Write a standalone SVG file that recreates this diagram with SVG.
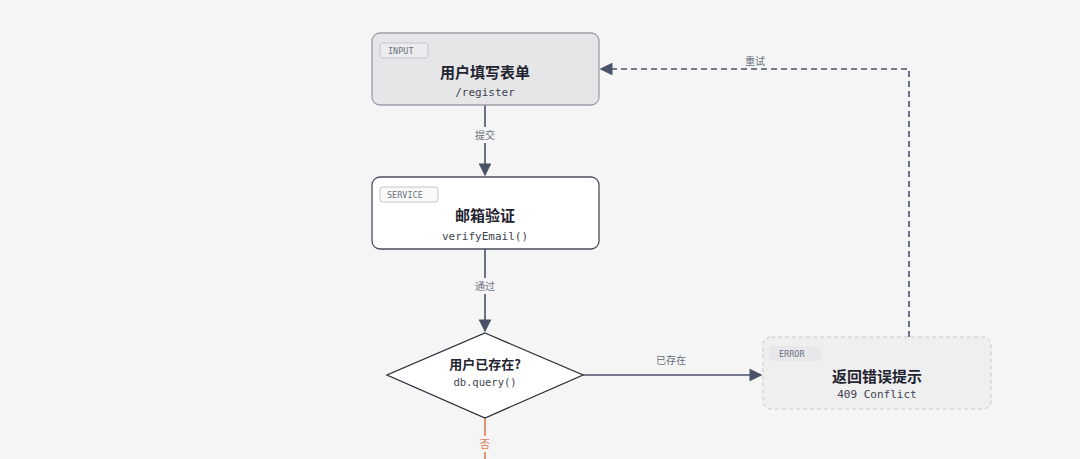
<svg xmlns="http://www.w3.org/2000/svg" width="1080" height="459" viewBox="0 0 1080 459">
<style>
.t{font-family:"Noto Sans CJK SC","Liberation Sans",sans-serif;font-weight:700;font-size:15px;fill:#1f2430;text-anchor:middle}
.m{font-family:"DejaVu Sans Mono","Liberation Mono",monospace;font-size:11px;fill:#3d4350;text-anchor:middle}
.tag{font-family:"DejaVu Sans Mono","Liberation Mono",monospace;font-size:8.5px;fill:#6b7280}
.lb{font-family:"Noto Sans CJK SC",sans-serif;font-size:10px;fill:#6b7280;text-anchor:middle}
.c{stroke:#4a5268;stroke-width:1.6;fill:none}
</style>
<defs>
<marker id="a" viewBox="0 0 10 10" refX="9" refY="5" markerWidth="8" markerHeight="8" orient="auto"><path d="M0,0L10,5L0,10z" fill="#4a5268"/></marker>
</defs>
<rect width="1080" height="459" fill="#f5f5f5"/>
<g id="connectors">
<path class="c" d="M485,105V175" marker-end="url(#a)"/>
<rect x="470" y="127" width="30" height="16" fill="#f5f5f5"/>
<text class="lb" x="485" y="139">提交</text>
<path class="c" d="M485,249V331" marker-end="url(#a)"/>
<rect x="470" y="278" width="30" height="16" fill="#f5f5f5"/>
<text class="lb" x="485" y="290">通过</text>
<path class="c" d="M583,375H761" marker-end="url(#a)"/>
<text class="lb" x="671" y="364">已存在</text>
<path class="c" stroke-dasharray="6,4" d="M909,337V69H601" marker-end="url(#a)"/>
<text class="lb" x="755" y="65">重试</text>
<path d="M485,418V459" stroke="#e07a4f" stroke-width="1.6"/>
<rect x="475" y="436" width="20" height="16" fill="#f5f5f5"/>
<text class="lb" x="485" y="448" fill="#e07a4f" style="fill:#e07a4f">否</text>
</g>
<g id="input">
<rect x="372" y="33" width="227" height="72" rx="8" fill="#e6e6e8" stroke="#9a9ea8" stroke-width="1.3"/>
<rect x="380" y="43" width="48" height="15" rx="3" fill="#ececee" stroke="#c4c6cc"/>
<text class="tag" x="388" y="54">INPUT</text>
<text class="t" x="485" y="78">用户填写表单</text>
<text class="m" x="485" y="96">/register</text>
</g>
<g id="service">
<rect x="372" y="177" width="227" height="72" rx="8" fill="#fff" stroke="#4a4f5c" stroke-width="1.3"/>
<rect x="380" y="187" width="58" height="15" rx="3" fill="#fafafa" stroke="#c4c6cc"/>
<text class="tag" x="387" y="198">SERVICE</text>
<text class="t" x="485" y="221">邮箱验证</text>
<text class="m" x="485" y="240">verifyEmail()</text>
</g>
<g id="decision">
<path d="M485,333L583,375L485,418L387,375z" fill="#fff" stroke="#2a2f3a" stroke-width="1.3"/>
<text class="t" x="485" y="369" style="font-size:13px">用户已存在?</text>
<text class="m" x="485" y="386" style="font-size:10.5px">db.query()</text>
</g>
<g id="error">
<rect x="763" y="337" width="228" height="72" rx="8" fill="#efefef" stroke="#c8c8cc" stroke-dasharray="4,3"/>
<rect x="769" y="346" width="52" height="15" rx="3" fill="#e8e8ea"/>
<text class="tag" x="779" y="357">ERROR</text>
<text class="t" x="877" y="382">返回错误提示</text>
<text class="m" x="877" y="398">409 Conflict</text>
</g>
</svg>
